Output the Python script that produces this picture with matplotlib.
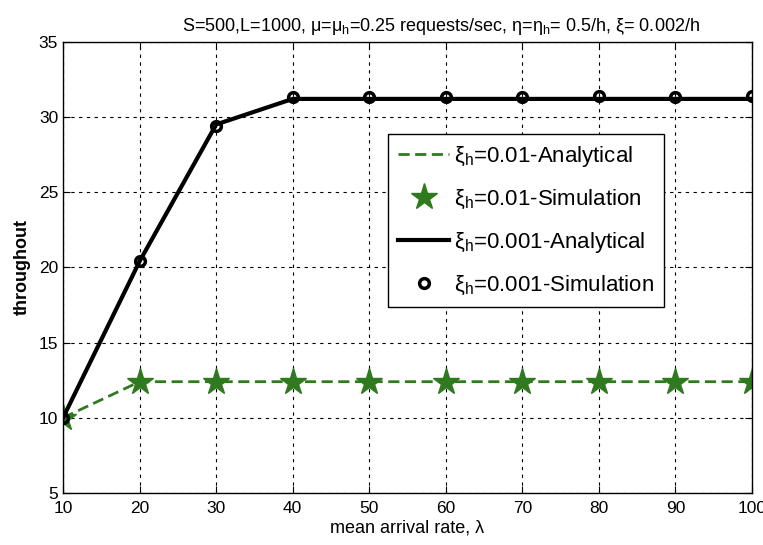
import numpy as np
import matplotlib.pyplot as plt

plt.rcParams['font.family'] = ['Liberation Sans', 'DejaVu Sans']
plt.rcParams['mathtext.fontset'] = 'custom'
plt.rcParams['mathtext.rm'] = 'Liberation Sans'
plt.rcParams['mathtext.it'] = 'Liberation Sans'

lam = [10, 20, 30, 40, 50, 60, 70, 80, 90, 100]
thr_001_ana = [10, 20.4, 29.5, 31.2, 31.2, 31.2, 31.2, 31.2, 31.2, 31.2]
thr_001_sim = [10, 20.4, 29.4, 31.3, 31.3, 31.3, 31.3, 31.4, 31.3, 31.4]
thr_01_ana = [10, 12.4, 12.4, 12.4, 12.4, 12.4, 12.4, 12.4, 12.4, 12.4]
thr_01_sim = [10, 12.4, 12.4, 12.4, 12.4, 12.4, 12.4, 12.4, 12.4, 12.4]

green = '#2f7a1f'

fig = plt.figure(figsize=(7.63, 5.45), dpi=100)
ax = fig.add_axes([0.0826, 0.0954, 0.903, 0.828])

ax.plot(lam, thr_01_ana, '--', color=green, lw=2, dashes=(4, 2), label='ξ$_\\mathrm{h}$=0.01-Analytical')
ax.plot(lam, thr_01_sim, '*', color=green, ms=20, label='ξ$_\\mathrm{h}$=0.01-Simulation')
ax.plot(lam, thr_001_ana, '-', color='black', lw=3, label='ξ$_\\mathrm{h}$=0.001-Analytical')
ax.plot(lam, thr_001_sim, 'o', color='black', ms=7, mfc='none', mew=2.5,
        label='ξ$_\\mathrm{h}$=0.001-Simulation')

ax.set_xlim(10, 100)
ax.set_ylim(5, 35)
ax.set_xticks(np.arange(10, 101, 10))
ax.set_yticks(np.arange(5, 36, 5))
ax.grid(True, ls=(0, (3, 4)), color='black', lw=0.8)
ax.tick_params(direction='in', labelsize=12.5, length=5, top=True, right=True)
ax.tick_params(axis='x', pad=6)
for s in ax.spines.values():
    s.set_linewidth(1.0)

ax.set_xlabel('mean arrival rate, λ', fontsize=13, labelpad=2)
ax.set_ylabel('throughout', fontsize=13, fontweight='bold', labelpad=6)
ax.set_title('S=500,L=1000, μ=μ$_\\mathrm{h}$=0.25 requests/sec, η=η$_\\mathrm{h}$= 0.5/h, ξ= 0.002/h',
             fontsize=13, pad=8, x=0.549)

leg = ax.legend(loc='upper left', bbox_to_anchor=(0.472, 0.795), fontsize=16,
                fancybox=False, edgecolor='black', framealpha=1,
                handlelength=2.3, borderpad=0.45, labelspacing=0.85, handletextpad=0.2,
                borderaxespad=0)
leg.get_frame().set_linewidth(1.0)

fig.savefig('out.png', dpi=100)
